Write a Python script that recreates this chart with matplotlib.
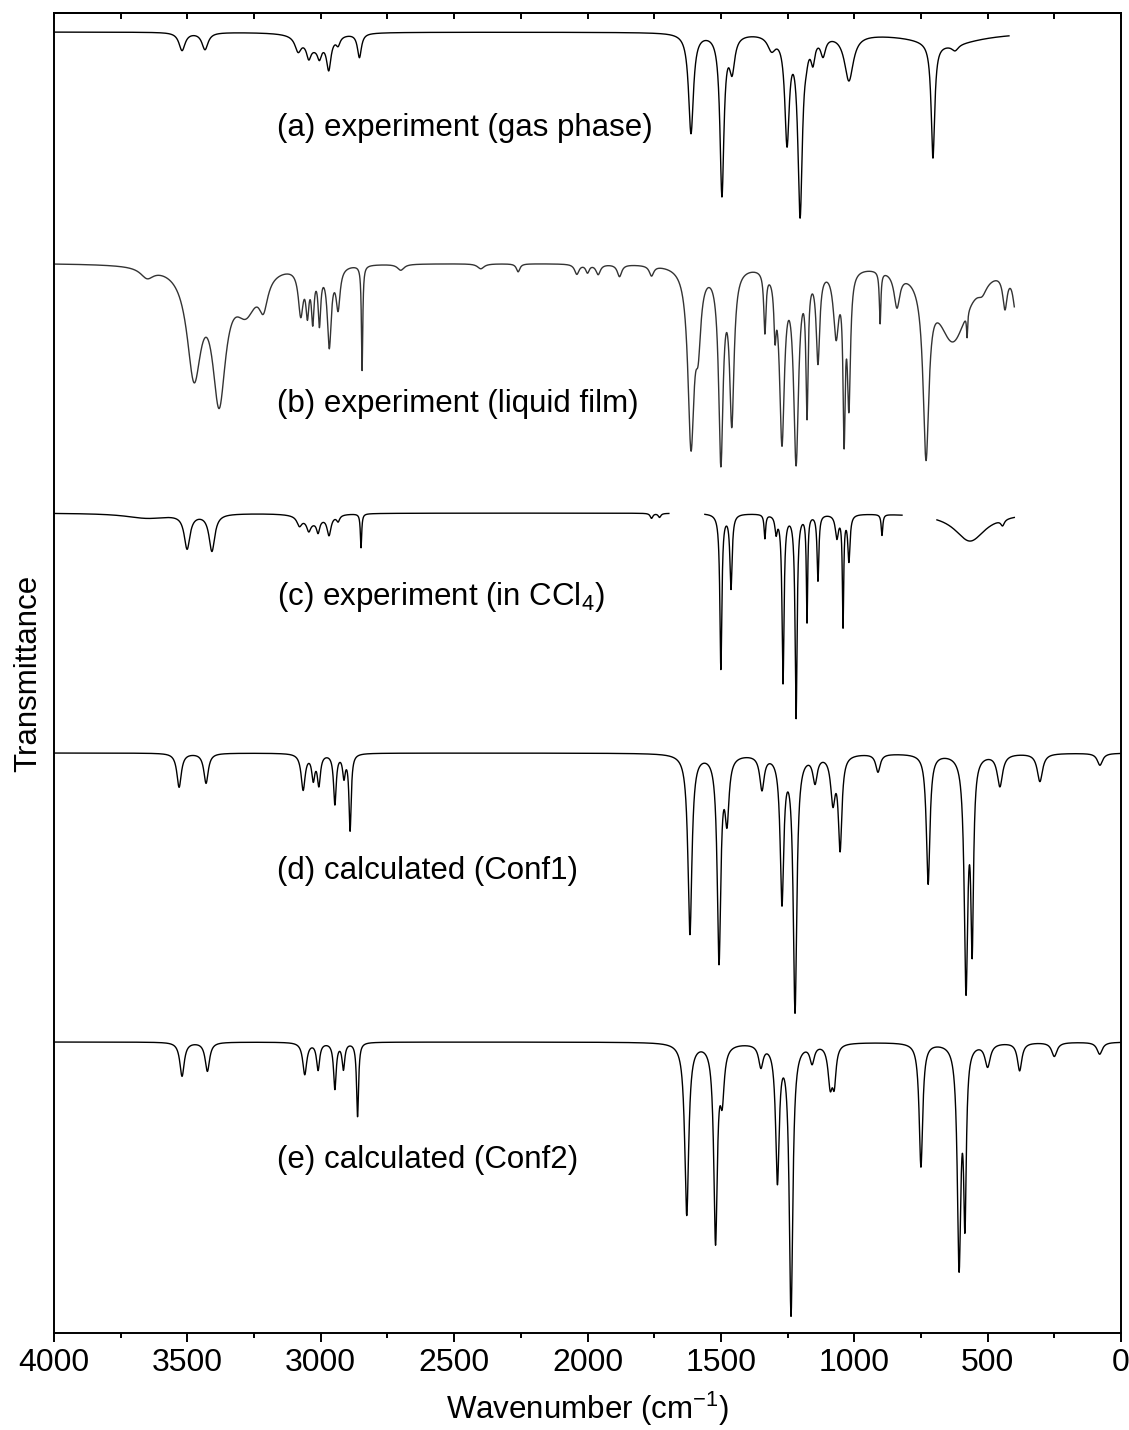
import numpy as np
import matplotlib.pyplot as plt
from matplotlib.ticker import MultipleLocator

plt.rcParams['font.family'] = ['Liberation Sans', 'DejaVu Sans']
plt.rcParams['mathtext.default'] = 'regular'

# band tables: centre (cm-1), depth (plot units), half width (cm-1)
a_pos = [3520, 3434, 3020, 3085, 3045, 3005, 2970, 2935, 2855, 1612, 1496, 1458, 1310,
         1252, 1203, 1180, 1155, 1117, 1020, 705, 622, 650]
a_depth = [18, 17, 14, 14, 14, 12, 30, 8, 24, 100, 160, 34, 14,
           105, 178, 8, 22, 18, 46, 115, 6, 12]
a_hw = [14, 14, 50, 14, 10, 9, 10, 9, 9, 11, 9, 12, 18,
        10, 10, 8, 9, 11, 20, 8, 15, 150]

b_pos = [3651, 3475, 3381, 3280, 3215, 3075, 3050, 3030, 3005, 2968, 2935, 2845,
         2700, 2400, 2260, 2040, 2000, 1960, 1880, 1760,
         1612, 1585, 1500, 1459, 1335, 1297, 1271, 1218, 1177, 1136, 1068, 1038,
         1020, 903, 840, 731, 630, 577, 520, 435, 395]
b_depth = [10, 105, 126, 40, 30, 45, 40, 48, 52, 78, 40, 105,
           6, 5, 8, 10, 8, 10, 12, 10,
           175, 60, 190, 150, 60, 48, 170, 190, 135, 90, 65, 155,
           130, 52, 34, 172, 75, 24, 10, 34, 40]
b_hw = [30, 32, 30, 50, 20, 11, 7, 6, 6, 9, 9, 3,
        15, 15, 8, 10, 8, 10, 10, 10,
        14, 12, 10, 10, 5, 5, 11, 11, 5, 8, 12, 5,
        7, 3.5, 13, 13, 70, 2.5, 20, 10, 12]

c_pos = [3650, 3501, 3408, 3030, 3080, 3045, 3010, 2969, 2935, 2849, 1760, 1730,
         1500, 1462, 1335, 1293, 1267, 1218, 1177, 1136, 1065, 1042, 1020, 896,
         566, 444]
c_depth = [5, 34, 37, 8, 9, 10, 12, 19, 6, 34, 5, 4,
           155, 74, 24, 17, 168, 203, 106, 66, 23, 110, 46, 21,
           28, 6]
c_hw = [100, 13, 13, 45, 11, 9, 7, 9, 7, 3, 6, 6,
        4.5, 5, 3.5, 5, 4.5, 4.5, 3, 4, 7, 3, 5, 3.5,
        70, 8]
c_ranges = [(4000, 1695), (1560, 821), (690, 400)]

d_pos = [3531, 3430, 3066, 3028, 3007, 2947, 2913, 2890,
         1616, 1507, 1477, 1346, 1271, 1222, 1147, 1080, 1053, 911,
         723, 581, 558, 454, 304, 79]
d_depth = [34, 30, 36, 24, 30, 50, 22, 76,
           180, 205, 60, 34, 145, 255, 26, 45, 92, 18,
           130, 230, 180, 32, 28, 12]
d_hw = [10, 10, 9, 7, 7, 6, 6, 5,
        9, 8, 9, 10, 8, 8, 10, 10, 8, 10,
        8, 8, 6, 12, 12, 12]

e_pos = [3520, 3425, 3060, 3010, 2947, 2915, 2862,
         1628, 1520, 1495, 1350, 1288, 1237, 1158, 1090, 1075,
         750, 607, 585, 500, 380, 250, 80]
e_depth = [34, 29, 32, 27, 46, 26, 74,
           172, 196, 48, 22, 135, 270, 18, 40, 35,
           124, 218, 165, 23, 28, 14, 12]
e_hw = [10, 10, 9, 7, 6, 6, 4.5,
        9, 8, 9, 10, 8, 8, 10, 10, 8,
        8, 8, 6, 12, 10, 12, 12]

labels = ['(a) experiment (gas phase)', '(b) experiment (liquid film)',
          '(c) experiment (in CCl$_4$)', '(d) calculated (Conf1)',
          '(e) calculated (Conf2)']


def spectrum(w, base, pos, depth, hw):
    y = np.full_like(w, base, dtype=float)
    for p, d, h in zip(pos, depth, hw):
        y -= d * h**2 / ((w - p)**2 + h**2)
    return y


fig = plt.figure(figsize=(11.29, 14.30), dpi=100)
ax = fig.add_axes([54 / 1129, 1 - 1333 / 1430, 1067 / 1129, 1320 / 1430])

w = np.arange(4000, -0.25, -0.5)

def draw(wmax, wmin, base, pos, depth, hw, color='black'):
    ww = w[(w <= wmax) & (w >= wmin)]
    ax.plot(ww, spectrum(ww, base, pos, depth, hw), color=color, lw=1.0)

draw(4000, 420, 1301, a_pos, a_depth, a_hw)
draw(4000, 400, 1070, b_pos, b_depth, b_hw, color='#333333')
for hi, lo in c_ranges:
    draw(hi, lo, 820, c_pos, c_depth, c_hw)
draw(4000, 0, 580, d_pos, d_depth, d_hw)
draw(4000, 0, 291, e_pos, e_depth, e_hw)

label_y = [1205, 929, 736, 462, 173]
for txt, ly in zip(labels, label_y):
    ax.text(3164, ly, txt, fontsize=22.5, ha='left', va='center')

ax.set_xlim(4000, 0)
ax.set_ylim(0, 1320)
ax.set_yticks([])

ax.xaxis.set_major_locator(MultipleLocator(500))
ax.xaxis.set_minor_locator(MultipleLocator(250))
ax.tick_params(axis='x', which='major', direction='out', length=6.5, width=1.4,
               labelsize=23, pad=4)
ax.tick_params(axis='x', which='minor', direction='out', length=3.6, width=1.4)
for s in ax.spines.values():
    s.set_linewidth(1.4)

top = ax.secondary_xaxis('top')
top.xaxis.set_major_locator(MultipleLocator(250))
top.tick_params(direction='in', length=4.3, width=1.4, labeltop=False)
top.spines['top'].set_linewidth(1.4)

ax.set_xlabel('Wavenumber (cm$^{-1}$)', fontsize=22.5, labelpad=9)
ax.set_ylabel('Transmittance', fontsize=22.5, labelpad=8)

fig.savefig('out.png', dpi=100)
